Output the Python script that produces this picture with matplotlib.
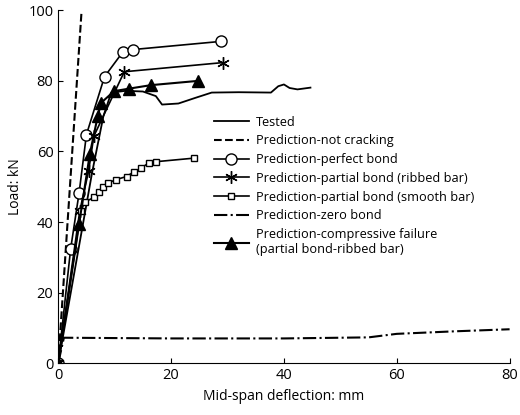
import matplotlib.pyplot as plt

plt.rcParams["font.family"] = ["Open Sans", "DejaVu Sans"]

tested_x = [0, 2, 4, 6, 8, 9.4, 12, 15, 17.3, 18.4, 21.3, 24.3, 27.2, 32, 37.7, 39, 40, 41, 42.4, 44.7]
tested_y = [0, 18, 36, 54, 70, 76.7, 77.2, 77, 75.7, 73.3, 73.6, 75.2, 76.7, 76.8, 76.7, 78.5, 79, 78, 77.6, 78.1]
nocrack_x = [0, 4.1]
nocrack_y = [0, 99]
perfect_x = [0, 2.2, 3.7, 5.0, 8.2, 11.4, 13.3, 28.8]
perfect_y = [0, 32.4, 48.3, 64.8, 81.2, 88.1, 88.9, 91.2]
ribbed_x = [0, 3.8, 5.4, 6.3, 11.7, 29.2]
ribbed_y = [0, 43, 54.6, 64.3, 82.6, 85.2]
smooth_x = [0, 4.0, 4.7, 6.4, 7.3, 7.9, 8.8, 10.2, 12.1, 13.5, 14.6, 16.0, 17.3, 24.0]
smooth_y = [0, 43, 45.7, 47, 48.6, 50, 51, 52, 52.9, 54.3, 55.2, 56.7, 57.1, 58.1]
zero_x = [0, 1, 20, 40, 55, 60, 70, 80]
zero_y = [0, 7.2, 7.0, 7.0, 7.3, 8.3, 9.0, 9.6]
comp_x = [0, 3.7, 5.6, 7.0, 7.6, 9.9, 12.5, 16.4, 24.7]
comp_y = [0, 39.5, 59.3, 70, 73.8, 77.1, 77.8, 78.8, 80]

fig = plt.figure(figsize=(5.2, 4.15), dpi=100)
ax = fig.add_axes([0.112, 0.125, 0.868, 0.85])

ax.plot(tested_x, tested_y, "k-", lw=1.3, label="Tested")
ax.plot(nocrack_x, nocrack_y, "k--", lw=1.5, label="Prediction-not cracking")
ax.plot(perfect_x, perfect_y, "k-", lw=1.2, marker="o", ms=8, mfc="white", label="Prediction-perfect bond")
ax.plot(ribbed_x, ribbed_y, "k-", lw=1.2, marker=(6, 2, 0), ms=9, label="Prediction-partial bond (ribbed bar)")
ax.plot(smooth_x, smooth_y, "k-", lw=1.2, marker="s", ms=4, mfc="white", label="Prediction-partial bond (smooth bar)")
ax.plot(zero_x, zero_y, "k-.", lw=1.5, label="Prediction-zero bond")
ax.plot(comp_x, comp_y, "k-", lw=1.5, marker="^", ms=8, label="Prediction-compressive failure\n(partial bond-ribbed bar)")

ax.set_xlim(0, 80)
ax.set_ylim(0, 100)
ax.set_xticks([0, 20, 40, 60, 80])
ax.set_yticks([0, 20, 40, 60, 80, 100])
ax.tick_params(direction="in", labelsize=10.5)
for s in ["top", "right"]:
    ax.spines[s].set_visible(False)
ax.set_xlabel("Mid-span deflection: mm", fontsize=10)
ax.set_ylabel("Load: kN", fontsize=10)
ax.legend(loc="upper left", bbox_to_anchor=(0.33, 0.72), frameon=False, fontsize=9.2,
          handlelength=2.8, labelspacing=0.45, borderpad=0, handletextpad=0.5)

fig.savefig("out.png", dpi=100)
